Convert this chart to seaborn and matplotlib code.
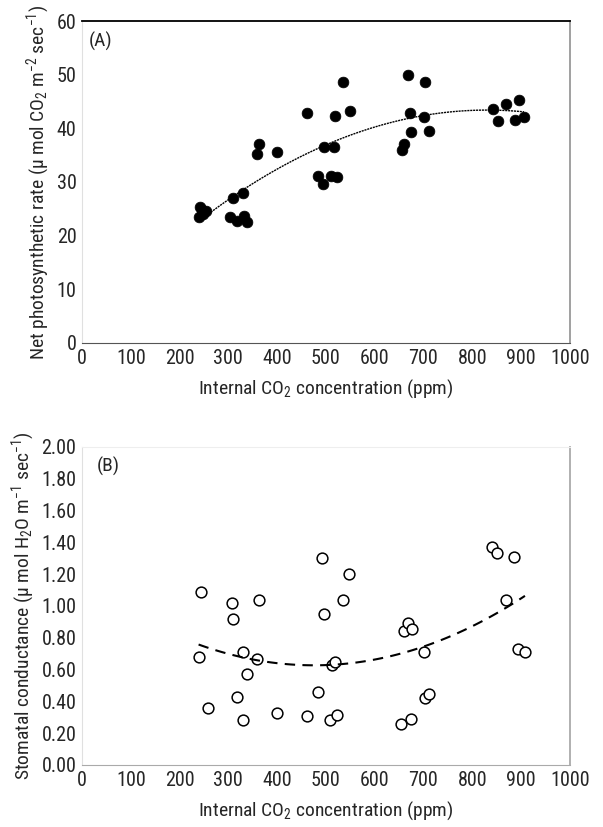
import numpy as np
import pandas as pd
import matplotlib
matplotlib.use("Agg")
import matplotlib.pyplot as plt
import seaborn as sns

# panel A: net photosynthetic rate vs internal CO2
ci_a = [240, 242, 248, 255, 245, 304, 309, 318, 330, 332, 339, 358, 363, 400,
        462, 483, 494, 496, 510, 517, 522, 518, 536, 550,
        656, 660, 669, 672, 674, 702, 704, 711,
        843, 852, 869, 887, 895, 906]
rate_a = [23.5, 25.4, 24.0, 24.6, 24.8, 23.4, 27.0, 22.8, 28.0, 23.7, 22.5, 35.2, 37.0, 35.6,
          42.9, 31.2, 29.7, 36.6, 31.2, 36.6, 30.9, 42.3, 48.7, 43.2,
          36.0, 37.0, 50.0, 42.9, 39.4, 42.2, 48.6, 39.5,
          43.6, 41.4, 44.6, 41.5, 45.2, 42.2]

# panel B: stomatal conductance vs internal CO2
ci_b = [243, 239, 258, 307, 309, 330, 318, 330, 339, 358, 363, 400,
        462, 483, 492, 497, 508, 522, 513, 518, 536, 548,
        654, 674, 661, 669, 676, 702, 703, 712,
        841, 851, 885, 869, 894, 908]
gs_b = [1.09, 0.68, 0.36, 1.02, 0.92, 0.71, 0.43, 0.28, 0.57, 0.665, 1.04, 0.325,
        0.305, 0.46, 1.30, 0.95, 0.28, 0.315, 0.63, 0.645, 1.04, 1.20,
        0.26, 0.29, 0.84, 0.89, 0.855, 0.71, 0.42, 0.445,
        1.37, 1.335, 1.31, 1.04, 0.73, 0.71]

df_a = pd.DataFrame({"ci": ci_a, "rate": rate_a})
df_b = pd.DataFrame({"ci": ci_b, "gs": gs_b})

sns.set_style("white")
plt.rcParams["font.family"] = ["Roboto Condensed", "Liberation Sans", "DejaVu Sans"]
plt.rcParams["mathtext.default"] = "regular"
fs = 14

fig = plt.figure(figsize=(6.03, 8.27), dpi=100)
ax_a = fig.add_axes([0.136, 0.5853, 0.809, 0.3893])
ax_b = fig.add_axes([0.136, 0.075, 0.809, 0.3845])

sns.regplot(data=df_a, x="ci", y="rate", order=2, ci=None, ax=ax_a,
            scatter_kws=dict(s=60, color="black", edgecolor="black", linewidths=0.5, alpha=1),
            line_kws=dict(color="black", lw=1.0, ls=(0, (1.5, 0.6))))
sns.regplot(data=df_b, x="ci", y="gs", order=2, ci=None, ax=ax_b,
            scatter_kws=dict(s=60, facecolor="white", edgecolor="black", linewidths=1.1, alpha=1),
            line_kws=dict(color="black", lw=1.5, ls=(0, (5, 3.5))))

for ax in (ax_a, ax_b):
    ax.set_xlim(0, 1000)
    ax.set_xticks(range(0, 1001, 100))
    ax.set_xlabel("Internal CO$_2$ concentration (ppm)", fontsize=fs, labelpad=7)
    ax.tick_params(axis="x", direction="in", length=3, color="#aaaaaa", pad=4, labelsize=14.5)
    ax.tick_params(axis="y", direction="out", length=3, color="#aaaaaa", pad=1, labelsize=14.5)

ax_a.set_ylim(0, 60)
ax_a.set_yticks(range(0, 61, 10))
ax_a.set_ylabel("Net photosynthetic rate (μ mol CO$_2$ m$^{-2}$ sec$^{-1}$)", fontsize=fs, labelpad=3)
ax_a.text(0.014, 0.965, "(A)", transform=ax_a.transAxes, va="top", ha="left", fontsize=fs)

ax_b.set_ylim(0, 2.0)
ax_b.set_yticks(np.arange(0, 2.01, 0.2))
ax_b.set_yticklabels([f"{v:.2f}" for v in np.arange(0, 2.01, 0.2)])
ax_b.set_ylabel("Stomatal conductance (μ mol H$_2$O m$^{-1}$ sec$^{-1}$)", fontsize=fs, labelpad=3)
ax_b.text(0.03, 0.97, "(B)", transform=ax_b.transAxes, va="top", ha="left", fontsize=fs)

# excel-like frame
ax_a.spines["top"].set_color("black")
ax_a.spines["top"].set_linewidth(1.3)
ax_a.spines["bottom"].set_color("#555555")
ax_a.spines["left"].set_color("#e0e0e0")
ax_a.spines["right"].set_color("#999999")
ax_a.spines["right"].set_linewidth(1.3)
ax_b.spines["top"].set_color("#eeeeee")
ax_b.spines["bottom"].set_color("#aaaaaa")
ax_b.spines["left"].set_color("#e0e0e0")
ax_b.spines["right"].set_color("#aaaaaa")
ax_b.spines["right"].set_linewidth(1.3)

fig.savefig("out.png", dpi=100)
